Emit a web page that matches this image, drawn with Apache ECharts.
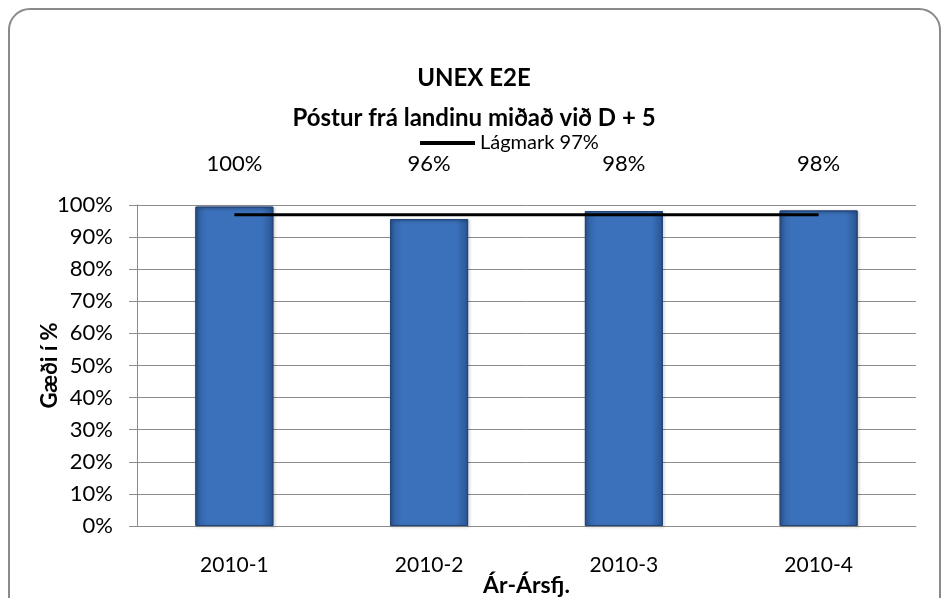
<!DOCTYPE html>
<html>
<head>
<meta charset="utf-8">
<script src="https://cdn.jsdelivr.net/npm/echarts@6/dist/echarts.min.js"></script>
<style>
html, body { margin: 0; padding: 0; background: #fff; }
.frame {
    position: absolute; left: 8px; top: 8px; width: 929px; height: 640px;
    border: 2px solid #8a8a8a; border-radius: 22px;
}
#main { position: absolute; left: 0; top: 0; width: 948px; height: 598px; }
</style>
</head>
<body>
<div class="frame"></div>
<div id="main"></div>
<script>
// data
var quarters = ['2010-1', '2010-2', '2010-3', '2010-4'];
var quality = [99.5, 95.6, 98.1, 98.3];
var minimum = [97, 97, 97, 97];
var yTicks = [0, 100, 10];

var chartDom = document.getElementById('main');
var myChart = echarts.init(chartDom);
var font = 'Lato';

var option = {
    textStyle: { fontFamily: font },
    title: {
        text: 'UNEX E2E\nPóstur frá landinu miðað við D + 5',
        left: 'center',
        top: 53,
        textStyle: {
            fontFamily: font,
            fontSize: 24,
            fontWeight: 'bold',
            color: '#000',
            lineHeight: 40
        }
    },
    legend: {
        data: ['Lágmark 97%'],
        left: 415,
        top: 128,
        icon: 'rect',
        itemWidth: 55,
        itemHeight: 4,
        itemGap: 4,
        textStyle: { fontFamily: font, fontSize: 20, color: '#000' }
    },
    grid: { left: 137, right: 32, top: 205, bottom: 72, outerBoundsMode: 'none' },
    xAxis: [
        {
            type: 'category',
            data: quarters,
            name: 'Ár-Ársfj.',
            nameLocation: 'middle',
            nameGap: 48,
            nameMoveOverlap: false,
            nameTextStyle: { fontFamily: font, fontSize: 23, fontWeight: 'bold', color: '#000' },
            axisLine: { lineStyle: { color: '#8c8c8c' } },
            axisTick: { length: 7, lineStyle: { color: '#8c8c8c' } },
            axisLabel: { margin: 29, fontSize: 21, color: '#000', fontFamily: font }
        },
        {
            type: 'category',
            position: 'top',
            data: quarters,
            axisLine: { show: false },
            axisTick: { show: false },
            axisLabel: {
                margin: 30,
                fontSize: 22,
                color: '#000',
                fontFamily: font,
                formatter: function (v, i) { return Math.round(quality[i]) + '%'; }
            }
        }
    ],
    yAxis: {
        type: 'value',
        min: yTicks[0],
        max: yTicks[1],
        interval: yTicks[2],
        name: 'Gæði í %',
        nameLocation: 'middle',
        nameRotate: 90,
        nameGap: 76,
        nameMoveOverlap: false,
        nameTextStyle: { fontFamily: font, fontSize: 22, fontWeight: 'bold', color: '#000' },
        axisLine: { show: true, lineStyle: { color: '#8c8c8c' } },
        axisTick: { show: true, length: 8, lineStyle: { color: '#8c8c8c' } },
        splitLine: { lineStyle: { color: '#8c8c8c' } },
        axisLabel: { margin: 24, fontSize: 22, color: '#000', fontFamily: font, formatter: '{value}%' }
    },
    series: [
        {
            name: 'Gæði',
            type: 'bar',
            barWidth: 78,
            data: quality,
            itemStyle: {
                color: new echarts.graphic.LinearGradient(0, 0, 1, 0, [
                    { offset: 0, color: '#2f5d9e' },
                    { offset: 0.15, color: '#3b71bb' },
                    { offset: 0.85, color: '#3b71bb' },
                    { offset: 1, color: '#2a5592' }
                ]),
                borderColor: '#23467a',
                borderWidth: 1,
                shadowColor: 'rgba(0,0,0,0.35)',
                shadowBlur: 3,
                shadowOffsetX: 1,
                shadowOffsetY: 1
            }
        },
        {
            name: 'Lágmark 97%',
            type: 'line',
            data: minimum,
            symbol: 'none',
            z: 5,
            itemStyle: { color: '#000' },
            lineStyle: { color: '#000', width: 3 }
        }
    ]
};

option && myChart.setOption(option);
</script>
</body>
</html>
